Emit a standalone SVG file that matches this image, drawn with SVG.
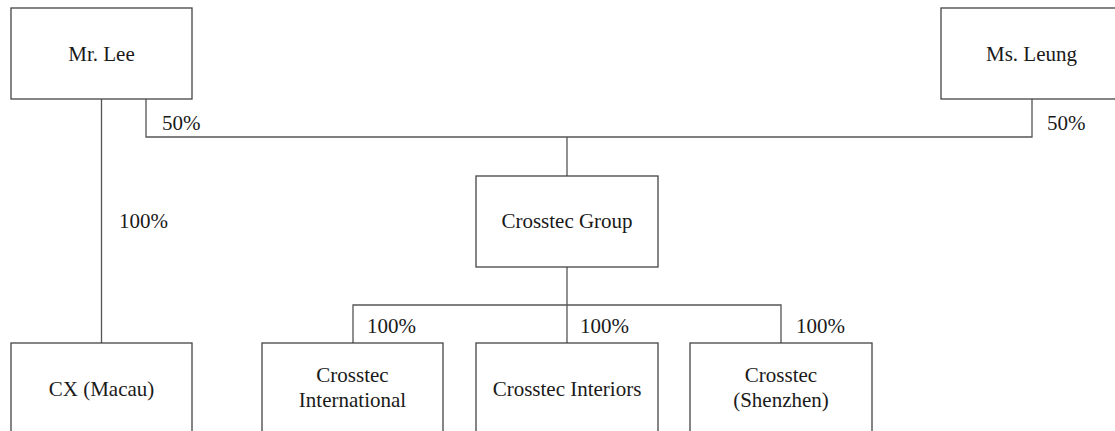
<svg xmlns="http://www.w3.org/2000/svg" width="1115" height="431" viewBox="0 0 1115 431">
<style>
.box{fill:#fff;stroke:#444;stroke-width:1.3}
.ln{fill:none;stroke:#555;stroke-width:1.3}
.t{font-family:'Liberation Serif','Times New Roman',Times,serif;font-size:21px;fill:#1a1a1a}
.c{text-anchor:middle}
</style>
<rect width="1115" height="431" fill="#fff"/>
<g id="connectors">
<path class="ln" d="M101.5 99 V343"/>
<path class="ln" d="M146 99 V137 H1032 V99"/>
<path class="ln" d="M567 137 V176"/>
<path class="ln" d="M567 267 V343"/>
<path class="ln" d="M353 343 V305 H781 V343"/>
<text class="t" x="162" y="130">50%</text>
<text class="t" x="1047" y="130">50%</text>
<text class="t" x="119" y="228">100%</text>
<text class="t" x="367" y="333">100%</text>
<text class="t" x="580" y="333">100%</text>
<text class="t" x="796" y="333">100%</text>
</g>
<g id="mr-lee"><rect class="box" x="11" y="8" width="181" height="91"/><text class="t c" x="101.5" y="61">Mr. Lee</text></g>
<g id="ms-leung"><rect class="box" x="941" y="8" width="181" height="91"/><text class="t c" x="1031.5" y="61">Ms. Leung</text></g>
<g id="crosstec-group"><rect class="box" x="476" y="176" width="182" height="91"/><text class="t c" x="567" y="228">Crosstec Group</text></g>
<g id="cx-macau"><rect class="box" x="11" y="343" width="181" height="91"/><text class="t c" x="101.5" y="396">CX (Macau)</text></g>
<g id="crosstec-international"><rect class="box" x="262" y="343" width="181" height="91"/><text class="t c" x="352.5" y="382">Crosstec</text><text class="t c" x="352.5" y="407">International</text></g>
<g id="crosstec-interiors"><rect class="box" x="476" y="343" width="182" height="91"/><text class="t c" x="567" y="396">Crosstec Interiors</text></g>
<g id="crosstec-shenzhen"><rect class="box" x="690" y="343" width="182" height="91"/><text class="t c" x="781" y="382">Crosstec</text><text class="t c" x="781" y="407">(Shenzhen)</text></g>
</svg>
